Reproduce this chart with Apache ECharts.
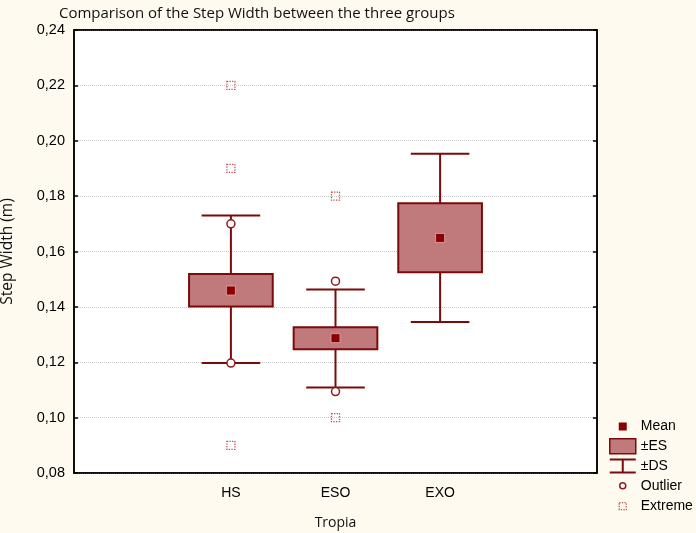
<!DOCTYPE html>
<html>
<head>
<meta charset="utf-8">
<script src="https://cdn.jsdelivr.net/npm/echarts@6/dist/echarts.min.js"></script>
<style>
  html, body { margin: 0; padding: 0; background: #fefaf0; }
  #chart { width: 696px; height: 533px; }
</style>
</head>
<body>
<div id="chart"></div>
<script>
var categories = ["", "HS", "ESO", "EXO", ""];
var groups = ["HS", "ESO", "EXO"];
var meanVals = [0.1459, 0.1287, 0.1649];
var esLow = [0.1401, 0.1247, 0.1525];
var esHigh = [0.1519, 0.1326, 0.1774];
var dsLow = [0.1197, 0.1109, 0.1345];
var dsHigh = [0.1730, 0.1463, 0.1953];
var outlierGroup = ["HS", "HS", "ESO", "ESO"];
var outlierVals = [0.170, 0.1197, 0.1493, 0.1094];
var extremeGroup = ["HS", "HS", "HS", "ESO", "ESO"];
var extremeVals = [0.22, 0.19, 0.09, 0.18, 0.10];
var yTicks = { min: 0.08, max: 0.24, step: 0.02 };

var dark = "#7d0a0a";
var boxFill = "#c07a7c";
var font = "Liberation Sans";

var myChart = echarts.init(document.getElementById("chart"), null, { renderer: "canvas" });

function idx(name) {
  return categories.indexOf(name);
}

var esData = groups.map(function (g, i) {
  return [idx(g), esLow[i], esHigh[i]];
});
var dsData = groups.map(function (g, i) {
  return [idx(g), dsLow[i], dsHigh[i]];
});
var meanData = groups.map(function (g, i) {
  return [idx(g), meanVals[i]];
});
var outlierData = outlierGroup.map(function (g, i) {
  return [idx(g), outlierVals[i]];
});
var extremeData = extremeGroup.map(function (g, i) {
  return [idx(g), extremeVals[i]];
});

function renderBox(params, api) {
  var lo = api.coord([api.value(0), api.value(1)]);
  var hi = api.coord([api.value(0), api.value(2)]);
  var w = api.size([1, 0])[0] * 0.8;
  return {
    type: "rect",
    shape: { x: lo[0] - w / 2, y: hi[1], width: w, height: lo[1] - hi[1] },
    style: { fill: boxFill, stroke: dark, lineWidth: 2 },
  };
}

function renderWhisker(params, api) {
  var lo = api.coord([api.value(0), api.value(1)]);
  var hi = api.coord([api.value(0), api.value(2)]);
  var w = api.size([1, 0])[0] * 0.56;
  var st = { stroke: dark, lineWidth: 2 };
  return {
    type: "group",
    children: [
      { type: "line", shape: { x1: lo[0], y1: lo[1], x2: hi[0], y2: hi[1] }, style: st },
      { type: "line", shape: { x1: lo[0] - w / 2, y1: lo[1], x2: lo[0] + w / 2, y2: lo[1] }, style: st },
      { type: "line", shape: { x1: hi[0] - w / 2, y1: hi[1], x2: hi[0] + w / 2, y2: hi[1] }, style: st },
    ],
  };
}

var option = {
  backgroundColor: "#fefaf0",
  animation: false,
  title: {
    text: "Comparison of the Step Width between the three groups",
    left: 54,
    top: 1,
    textStyle: { fontFamily: "Open Sans", fontSize: 15, fontWeight: "normal", color: "#111" },
  },
  legend: {
    orient: "vertical",
    left: 604,
    top: 414,
    itemWidth: 26,
    itemHeight: 15,
    itemGap: 4,
    selectedMode: false,
    textStyle: { fontFamily: font, fontSize: 14, color: "#000", lineHeight: 15 },
    data: [
      {
        name: "Mean",
        icon: "path://M0,0M26,15M9,3.5h8v8h-8z",
        itemStyle: { color: "#8b0000", borderWidth: 0 },
      },
      {
        name: "±ES",
        icon: "rect",
        itemStyle: { color: boxFill, borderColor: dark, borderWidth: 1.5 },
      },
      {
        name: "±DS",
        icon: "path://M0,0H26V2H0Z M12,2H14V13H12Z M0,13H26V15H0Z",
        itemStyle: { color: dark, borderWidth: 0 },
      },
      {
        name: "Outlier",
        icon: "path://M0,0M26,15M10,7.5a3,3 0 1,0 6,0a3,3 0 1,0 -6,0z",
        itemStyle: { color: "#fff", borderColor: "#8b1a1a", borderWidth: 1.5 },
      },
      {
        name: "Extreme",
        icon: "path://M0,0M26,15M9.5,4h7v7h-7z",
        itemStyle: { color: "rgba(0,0,0,0)", borderColor: "#c05050", borderWidth: 1.3, borderType: "dotted" },
      },
    ],
  },
  grid: {
    left: 74,
    right: 99,
    top: 30,
    bottom: 60,
    outerBoundsMode: "none",
    containLabel: false,
    show: true,
    backgroundColor: "#fff",
    borderColor: "#000",
    borderWidth: 1.5,
  },
  xAxis: [
    {
      type: "category",
      data: categories,
      position: "bottom",
      boundaryGap: true,
      name: "Tropia",
      nameLocation: "middle",
      nameGap: 43,
      nameTextStyle: { fontFamily: "Open Sans", fontSize: 14, color: "#111" },
      axisLine: { lineStyle: { color: "#000", width: 1.5 } },
      axisTick: { inside: true, alignWithLabel: true, length: 5, lineStyle: { color: "#000", width: 1.5 } },
      axisLabel: { fontFamily: font, fontSize: 14, color: "#000", margin: 13 },
      splitLine: { show: false },
    },
    {
      type: "category",
      data: categories,
      position: "top",
      boundaryGap: true,
      axisLine: { lineStyle: { color: "#000", width: 1.5 } },
      axisTick: { inside: true, alignWithLabel: true, length: 5, lineStyle: { color: "#000", width: 1.5 } },
      axisLabel: { show: false },
      splitLine: { show: false },
    },
  ],
  yAxis: [
    {
      type: "value",
      min: yTicks.min,
      max: yTicks.max,
      interval: yTicks.step,
      position: "left",
      name: "Step Width (m)",
      nameLocation: "middle",
      nameGap: 58,
      nameTextStyle: { fontFamily: "Open Sans", fontSize: 15.5, color: "#111" },
      axisLine: { show: true, lineStyle: { color: "#000", width: 1.5 } },
      axisTick: { show: true, inside: true, length: 4, lineStyle: { color: "#000", width: 1.5 } },
      axisLabel: {
        fontFamily: font,
        fontSize: 14.5,
        color: "#000",
        margin: 9,
        formatter: function (v) {
          return v.toFixed(2).replace(".", ",");
        },
      },
      splitLine: { show: true, lineStyle: { color: "#c8c8c8", type: "dotted", width: 1 } },
    },
    {
      type: "value",
      min: yTicks.min,
      max: yTicks.max,
      interval: yTicks.step,
      position: "right",
      axisLine: { show: true, lineStyle: { color: "#000", width: 1.5 } },
      axisTick: { show: true, inside: true, length: 4, lineStyle: { color: "#000", width: 1.5 } },
      axisLabel: { show: false },
      splitLine: { show: false },
    },
  ],
  series: [
    {
      name: "±DS",
      type: "custom",
      renderItem: renderWhisker,
      encode: { x: 0, y: [1, 2] },
      data: dsData,
      z: 2,
    },
    {
      name: "±ES",
      type: "custom",
      renderItem: renderBox,
      encode: { x: 0, y: [1, 2] },
      data: esData,
      itemStyle: { color: boxFill },
      z: 3,
    },
    {
      name: "Mean",
      type: "scatter",
      symbol: "rect",
      symbolSize: 9,
      data: meanData,
      itemStyle: { color: "#8b0000", borderColor: "rgba(230,170,170,0.8)", borderWidth: 1, opacity: 1 },
      z: 5,
    },
    {
      name: "Outlier",
      type: "scatter",
      symbol: "circle",
      symbolSize: 8,
      data: outlierData,
      itemStyle: { color: "#fff", borderColor: "#8b1a1a", borderWidth: 1.5, opacity: 1 },
      z: 5,
    },
    {
      name: "Extreme",
      type: "scatter",
      symbol: "rect",
      symbolSize: 8,
      data: extremeData,
      itemStyle: { color: "rgba(0,0,0,0)", borderColor: "#c05050", borderWidth: 1.3, borderType: "dotted", opacity: 1 },
      z: 5,
    },
  ],
};

myChart.setOption(option);
</script>
</body>
</html>
